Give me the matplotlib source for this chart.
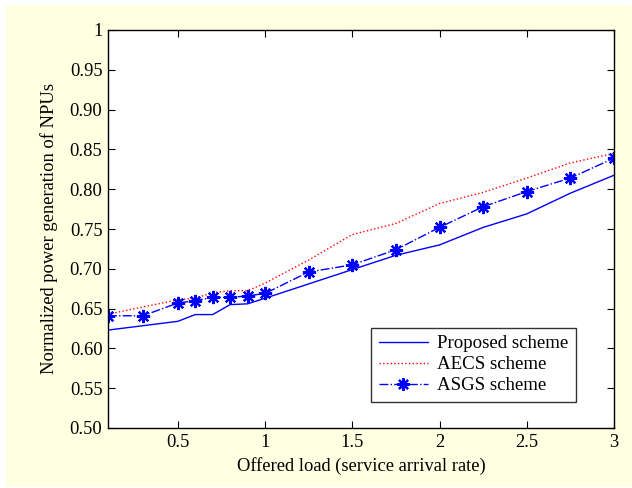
import matplotlib
matplotlib.use("Agg")
import matplotlib.pyplot as plt
from matplotlib.patches import Rectangle

plt.rcParams['font.family'] = ['Liberation Serif', 'DejaVu Serif']

# Data
x_prop = [0.1, 0.5, 0.6, 0.7, 0.8, 0.9, 1.0, 1.25, 1.5, 1.75, 2.0, 2.25, 2.5, 2.75, 3.0]
y_prop = [0.623, 0.634, 0.6425, 0.6425, 0.655, 0.656, 0.663, 0.681, 0.699, 0.717, 0.730, 0.752, 0.769, 0.795, 0.8175]

x_aecs = [0.1, 0.5, 0.6, 0.7, 0.8, 0.9, 1.0, 1.25, 1.5, 1.75, 2.0, 2.25, 2.5, 2.75, 3.0]
y_aecs = [0.643, 0.661, 0.663, 0.670, 0.6725, 0.6725, 0.682, 0.711, 0.743, 0.757, 0.782, 0.796, 0.814, 0.833, 0.845]

x_asgs = [0.1, 0.3, 0.5, 0.6, 0.7, 0.8, 0.9, 1.0, 1.25, 1.5, 1.75, 2.0, 2.25, 2.5, 2.75, 3.0]
y_asgs = [0.641, 0.641, 0.657, 0.660, 0.664, 0.664, 0.666, 0.669, 0.696, 0.705, 0.724, 0.752, 0.778, 0.797, 0.814, 0.839]

xticks = [0.5, 1, 1.5, 2, 2.5, 3]
xtick_labels = ['0.5', '1', '1.5', '2', '2.5', '3']
yticks = [0.50, 0.55, 0.60, 0.65, 0.70, 0.75, 0.80, 0.85, 0.90, 0.95, 1.0]
ytick_labels = ['0.50', '0.55', '0.60', '0.65', '0.70', '0.75', '0.80', '0.85', '0.90', '0.95', '1']

W, H = 632, 488
fig = plt.figure(figsize=(W / 100, H / 100), dpi=100)
fig.patch.set_facecolor('white')
fig.patches.append(Rectangle((6 / W, 1 / H), 1 - 6 / W, 1 - 6 / H,
                             transform=fig.transFigure, facecolor='#FFFFE1',
                             edgecolor='none', zorder=-10))

left, right, top, bottom = 108, 614, 30, 428
ax = fig.add_axes([left / W, 1 - bottom / H, (right - left) / W, (bottom - top) / H])
ax.set_facecolor('white')

FS = 13.3

ax.plot(x_prop, y_prop, color='#0000FF', lw=1.0, label='Proposed scheme')
ax.plot(x_aecs, y_aecs, color='#FF0000', lw=1.0, ls=':', label='AECS scheme')
ax.plot(x_asgs, y_asgs, color='#0000FF', lw=1.0, ls='-.', marker=(8, 2, 0),
        markersize=9.5, markeredgewidth=1.6, label='ASGS scheme')

ax.set_xlim(0.1, 3.0)
ax.set_ylim(0.5, 1.0)
ax.set_xticks(xticks)
ax.set_xticklabels(xtick_labels)
ax.set_yticks(yticks)
ax.set_yticklabels(ytick_labels)
ax.tick_params(direction='in', length=5, width=0.8, top=True, right=True,
               labelsize=FS, pad=4)
for s in ax.spines.values():
    s.set_linewidth(1.0)

ax.set_xlabel('Offered load (service arrival rate)', fontsize=FS, labelpad=5)
ax.set_ylabel('Normalized power generation of NPUs', fontsize=FS, labelpad=8)

leg = ax.legend(loc='lower right', bbox_to_anchor=((576 - left) / (right - left), (bottom - 402) / (bottom - top)),
                fontsize=13.6, frameon=True, fancybox=False, edgecolor='black',
                borderaxespad=0, handlelength=2.6, borderpad=0.4, labelspacing=0.2,
                handletextpad=0.5)
leg.get_frame().set_linewidth(1.0)
for h in leg.legend_handles:
    h.set_markersize(9)

fig.savefig('out.png', dpi=100)
